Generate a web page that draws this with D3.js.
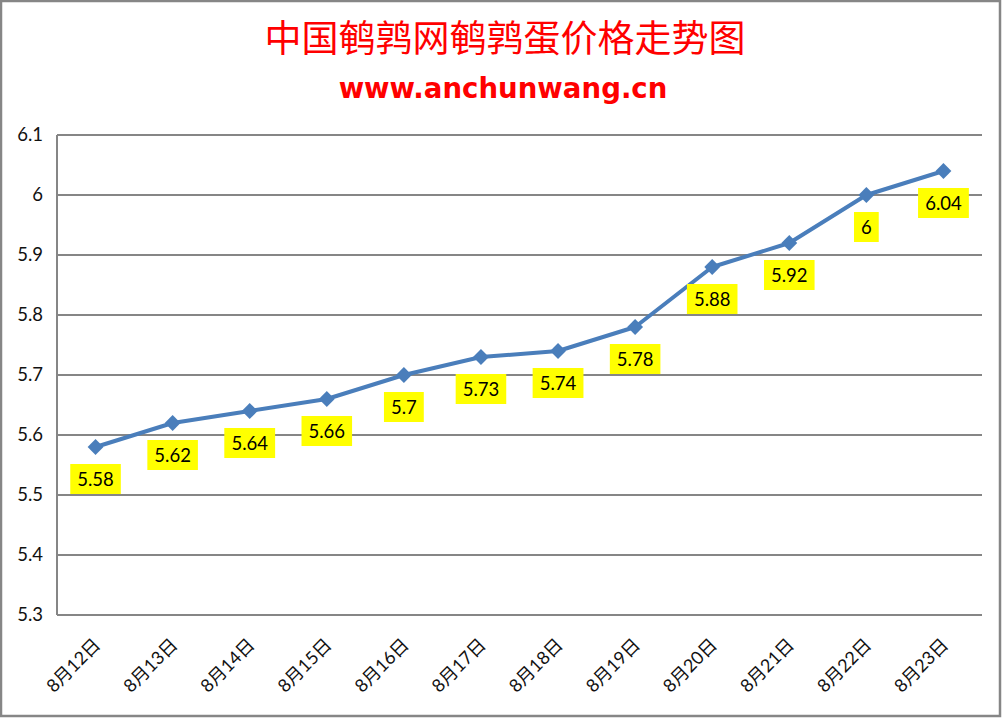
<!DOCTYPE html>
<html><head><meta charset="utf-8">
<script src="https://cdn.jsdelivr.net/npm/d3@7"></script>
<style>body{margin:0;background:#fff}</style>
</head><body>
<svg id="c" width="1007" height="719"></svg>
<script>
const categories = ["8月12日","8月13日","8月14日","8月15日","8月16日","8月17日","8月18日","8月19日","8月20日","8月21日","8月22日","8月23日"];
const prices = [5.58,5.62,5.64,5.66,5.7,5.73,5.74,5.78,5.88,5.92,6,6.04];
const yTicks = [5.3,5.4,5.5,5.6,5.7,5.8,5.9,6,6.1];
const titleText = "中国鹌鹑网鹌鹑蛋价格走势图";
const subtitleText = "www.anchunwang.cn";

const svg = d3.select("#c");
const m = {l:57, r:982, t:135, b:615};
const numFont = "Lato, 'Liberation Sans', 'Noto Sans CJK SC', sans-serif";
const grid = "#868686";

svg.append("rect").attr("x",1).attr("y",1).attr("width",999).attr("height",715)
  .attr("fill","#fff").attr("stroke",grid).attr("stroke-width",2.5);

svg.append("text").attr("x",505).attr("y",52).attr("text-anchor","middle")
  .attr("font-family","'Noto Sans CJK SC', sans-serif").attr("font-size",37)
  .attr("fill","#ff0000").text(titleText);
svg.append("text").attr("x",503).attr("y",98).attr("text-anchor","middle")
  .attr("font-family","'DejaVu Sans', sans-serif").attr("font-weight","bold").attr("font-size",27.6)
  .attr("fill","#ff0000").text(subtitleText);

const x = d3.scaleBand().domain(categories).range([m.l, m.r]);
const y = d3.scaleLinear().domain([5.3, 6.1]).range([m.b, m.t]);

svg.append("g").selectAll("line").data(yTicks).join("line")
  .attr("x1", m.l).attr("x2", m.r).attr("y1", d=>y(d)).attr("y2", d=>y(d))
  .attr("stroke", grid).attr("stroke-width", 2);
svg.append("line").attr("x1",m.l).attr("x2",m.l).attr("y1",m.t).attr("y2",m.b)
  .attr("stroke",grid).attr("stroke-width",2);

const yAxis = d3.axisLeft(y).tickValues(yTicks).tickSize(0).tickPadding(14).tickFormat(d=>d3.format("")(+d.toFixed(1)));
const ya = svg.append("g").attr("transform",`translate(${m.l},0)`).call(yAxis);
ya.select(".domain").remove();
ya.selectAll("text").attr("font-family",numFont).attr("font-size",18.5).attr("fill","#111");

const xAxis = d3.axisBottom(x).tickSize(0).tickPadding(0);
const xa = svg.append("g").attr("transform",`translate(0,${m.b})`).call(xAxis);
xa.select(".domain").remove();
xa.selectAll("text")
  .attr("font-family",numFont).attr("font-size",18).attr("fill","#111")
  .attr("text-anchor","end").attr("dy",null).attr("y",0)
  .attr("transform","translate(6,31) rotate(-45)");

const line = d3.line().x((d,i)=>x(categories[i])+x.bandwidth()/2).y(d=>y(d));
svg.append("path").datum(prices).attr("d",line).attr("fill","none")
  .attr("stroke","#4a7ebb").attr("stroke-width",4).attr("stroke-linejoin","round");

svg.append("g").selectAll("path").data(prices).join("path")
  .attr("d", d3.symbol().type(d3.symbolDiamond2).size(160)())
  .attr("transform",(d,i)=>`translate(${x(categories[i])+x.bandwidth()/2},${y(d)})`)
  .attr("fill","#4a7ebb");

const lg = svg.append("g");
prices.forEach((d,i)=>{
  const cx = x(categories[i])+x.bandwidth()/2, cy = y(d)+32;
  const g = lg.append("g");
  const t = g.append("text").attr("x",cx).attr("y",cy+6.5).attr("text-anchor","middle")
    .attr("font-family",numFont).attr("font-size",18.5).attr("fill","#000").text(d3.format("")(d));
  const bb = t.node().getBBox();
  g.insert("rect","text").attr("x",cx-bb.width/2-7).attr("y",cy-15).attr("width",bb.width+14).attr("height",30)
    .attr("fill","#ffff00");
});
</script>
</body></html>
